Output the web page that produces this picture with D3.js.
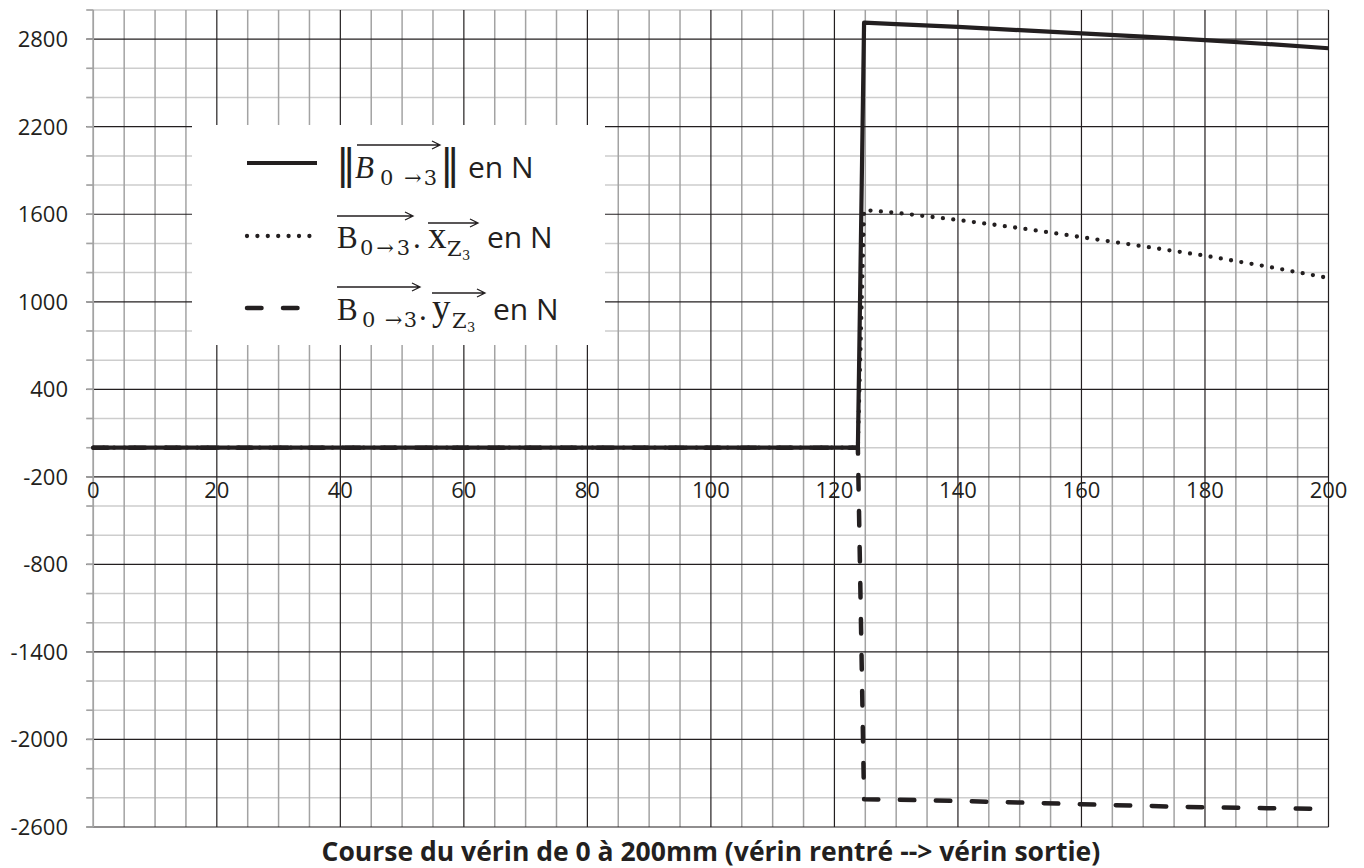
<!DOCTYPE html>
<html>
<head>
<meta charset="utf-8">
<script src="https://cdn.jsdelivr.net/npm/d3@7"></script>
<style>
  body { margin: 0; background: #fff; }
  svg { display: block; }
</style>
</head>
<body>
<div id="chart"></div>
<script>
// values
var courseMm = [0, 123.8, 124.8, 130, 140, 150, 160, 170, 180, 190, 200];
var normeB = [0, 0, 2913, 2903, 2884, 2862, 2840, 2817, 2794, 2767, 2738];
var composanteX = [0, 0, 1629, 1610, 1561, 1505, 1443, 1380, 1316, 1242, 1163];
var composanteY = [0, 0, -2410, -2413, -2422, -2432, -2444, -2455, -2465, -2471, -2477];

var xTickLabels = [0, 20, 40, 60, 80, 100, 120, 140, 160, 180, 200];
var yTickLabels = [2800, 2200, 1600, 1000, 400, -200, -800, -1400, -2000, -2600];
var xTitle = "Course du vérin de 0 à 200mm (vérin rentré --> vérin sortie)";

var width = 1364, height = 868;
var ink = "#231f20";

var svg = d3.select("#chart").append("svg")
    .attr("width", width)
    .attr("height", height);

svg.append("rect").attr("width", width).attr("height", height).attr("fill", "#fff");

var x = d3.scaleLinear().domain([0, 200]).range([93.3, 1328.5]);
var y = d3.scaleLinear().domain([-2600, 3000]).range([827, 10]);

// grid: minor every 5 mm / 200 N, major every 20 mm / 600 N
var vMinor = d3.range(0, 201, 5).filter(function (d) { return d % 20 !== 0 || d === 0; });
var vMajor = d3.range(20, 201, 20);
var hAll = d3.range(-2600, 3001, 200);
var hMajor = hAll.filter(function (d) { return (d + 2600) % 600 === 0; });
var hMinor = hAll.filter(function (d) { return (d + 2600) % 600 !== 0; });

var grid = svg.append("g");

grid.selectAll(".hminor").data(hMinor).enter().append("line")
    .attr("x1", x(0) - 7).attr("x2", x(200))
    .attr("y1", function (d) { return y(d); })
    .attr("y2", function (d) { return y(d); })
    .attr("stroke", "#cdcdcd").attr("stroke-width", 1.5);

grid.selectAll(".vminor").data(vMinor).enter().append("line")
    .attr("x1", function (d) { return x(d); })
    .attr("x2", function (d) { return x(d); })
    .attr("y1", y(3000)).attr("y2", y(-2600))
    .attr("stroke", "#a3a3a3").attr("stroke-width", 1.5);

grid.selectAll(".hmajor").data(hMajor).enter().append("line")
    .attr("x1", x(0) - 7).attr("x2", x(200))
    .attr("y1", function (d) { return y(d); })
    .attr("y2", function (d) { return y(d); })
    .attr("stroke", ink).attr("stroke-width", 1.2);

grid.selectAll(".vmajor").data(vMajor).enter().append("line")
    .attr("x1", function (d) { return x(d); })
    .attr("x2", function (d) { return x(d); })
    .attr("y1", y(3000)).attr("y2", y(-2600))
    .attr("stroke", ink).attr("stroke-width", 1.2);

// left value axis (grey) drawn on top of the major lines
svg.append("line")
    .attr("x1", x(0)).attr("x2", x(0))
    .attr("y1", y(3000)).attr("y2", y(-2600))
    .attr("stroke", "#a3a3a3").attr("stroke-width", 1.5);
svg.selectAll(".ytick").data(hAll).enter().append("line")
    .attr("x1", x(0) - 7).attr("x2", x(0))
    .attr("y1", function (d) { return y(d); })
    .attr("y2", function (d) { return y(d); })
    .attr("stroke", "#a3a3a3").attr("stroke-width", 1.5);

// tick labels
var labelFont = "'Open Sans', sans-serif";
svg.selectAll(".ylab").data(yTickLabels).enter().append("text")
    .attr("x", 68)
    .attr("y", function (d) { return y(d); })
    .attr("dy", "0.36em")
    .attr("text-anchor", "end")
    .style("font-family", labelFont).style("font-size", "22px")
    .attr("fill", ink)
    .text(function (d) { return d; });

// the category labels sit on the -200 line
svg.selectAll(".xlab").data(xTickLabels).enter().append("text")
    .attr("x", function (d) { return x(d); })
    .attr("y", y(-200) + 5)
    .attr("dy", "0.72em")
    .attr("text-anchor", "middle")
    .style("font-family", labelFont).style("font-size", "22px")
    .attr("fill", ink)
    .text(function (d) { return d; });

svg.append("text")
    .attr("x", (x(0) + x(200)) / 2)
    .attr("y", 861)
    .attr("text-anchor", "middle")
    .style("font-family", labelFont).style("font-size", "26.5px").style("font-weight", "bold")
    .attr("fill", ink)
    .text(xTitle);

// series
var series = [
    { name: "norme", values: normeB, dash: null, cap: "butt", w: 4.2 },
    { name: "x", values: composanteX, dash: "0 10.4", cap: "round", w: 4.3 },
    { name: "y", values: composanteY, dash: "14.5 21.5", cap: "round", w: 4.5 }
];

var line = d3.line()
    .x(function (d) { return x(d[0]); })
    .y(function (d) { return y(d[1]); });

series.forEach(function (s) {
    var pts = courseMm.map(function (c, i) { return [c, s.values[i]]; });
    svg.append("path")
        .datum(pts)
        .attr("d", line)
        .attr("fill", "none")
        .attr("stroke", ink)
        .attr("stroke-width", s.w)
        .attr("stroke-linecap", s.cap)
        .attr("stroke-linejoin", "round")
        .attr("stroke-dasharray", s.dash);
});

// legend box
var lg = svg.append("g");
lg.append("rect")
    .attr("x", 192).attr("y", 125)
    .attr("width", 413).attr("height", 220)
    .attr("fill", "#fff");

var rowY = [163, 236, 308];
series.forEach(function (s, i) {
    lg.append("line")
        .attr("x1", 247).attr("x2", 317)
        .attr("y1", rowY[i]).attr("y2", rowY[i])
        .attr("stroke", ink)
        .attr("stroke-width", s.w)
        .attr("stroke-linecap", s.cap)
        .attr("stroke-dasharray", s.dash);
});

var serif = "'Liberation Serif', 'DejaVu Serif', serif";
var subFont = "'DejaVu Serif', serif";
var barFont = "'DejaVu Sans', sans-serif";

//each piece of the legend formula placed where it sits in the picture
function placeRuns(g, baseline, runs) {
    runs.forEach(function (r) {
        var t = g.append("text")
            .attr("x", r.x)
            .attr("y", baseline + (r.dy || 0))
            .style("font-family", r.font)
            .style("font-size", r.size + "px")
            .style("font-style", r.italic ? "italic" : "normal")
            .style("white-space", "pre")
            .attr("fill", ink)
            .text(r.t);
        if (r.w) {
            t.attr("textLength", r.w).attr("lengthAdjust", "spacing");
        }
    });
}

function drawArrow(g, x1, x2, yy) {
    g.append("path")
        .attr("d", "M" + x1 + "," + yy + "H" + x2 +
            "M" + (x2 - 8) + "," + (yy - 4) + "L" + x2 + "," + yy + "L" + (x2 - 8) + "," + (yy + 4))
        .attr("fill", "none")
        .attr("stroke", ink)
        .attr("stroke-width", 1.3);
}

placeRuns(lg, 178, [
    { t: "\u2016", x: 336, font: barFont, size: 40 },
    { t: "B", x: 355, font: serif, size: 31, italic: true },
    { t: "0 \u21923", x: 380, w: 57, font: subFont, size: 21, dy: 7 },
    { t: "\u2016", x: 440, font: barFont, size: 40 },
    { t: "en N", x: 468, font: labelFont, size: 30 }
]);
drawArrow(lg, 357, 440, 145);

placeRuns(lg, 248, [
    { t: "B", x: 337, font: serif, size: 31 },
    { t: "0\u21923", x: 360, w: 50, font: subFont, size: 21, dy: 7 },
    { t: ".", x: 413, font: serif, size: 31 },
    { t: "x", x: 428, font: serif, size: 37 },
    { t: "Z", x: 447, font: subFont, size: 21, dy: 8 },
    { t: "3", x: 462, font: subFont, size: 13, dy: 12 },
    { t: "en N", x: 487, font: labelFont, size: 30 }
]);
drawArrow(lg, 337, 413, 216);
drawArrow(lg, 428, 478, 223);

placeRuns(lg, 320, [
    { t: "B", x: 337, font: serif, size: 31 },
    { t: "0 \u21923", x: 362, w: 55, font: subFont, size: 21, dy: 7 },
    { t: ".", x: 419, font: serif, size: 31 },
    { t: "y", x: 432, font: serif, size: 37 },
    { t: "Z", x: 452, font: subFont, size: 21, dy: 8 },
    { t: "3", x: 467, font: subFont, size: 13, dy: 12 },
    { t: "en N", x: 493, font: labelFont, size: 30 }
]);
drawArrow(lg, 337, 420, 287);
drawArrow(lg, 432, 485, 293);
</script>
</body>
</html>
